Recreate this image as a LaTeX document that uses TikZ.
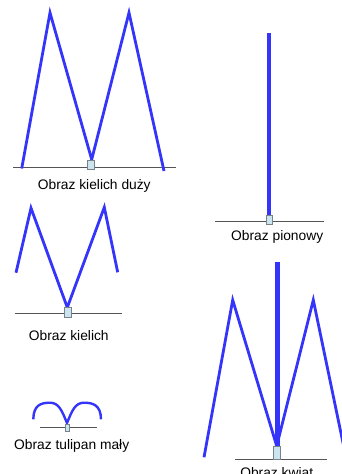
\documentclass[tikz,border=0pt]{standalone}
\usepackage{fontspec}
\setmainfont{Liberation Sans}
\definecolor{stem}{RGB}{52,52,250}
\definecolor{ground}{RGB}{85,85,85}
\definecolor{boxfill}{RGB}{204,228,240}
\definecolor{boxline}{RGB}{120,130,135}
\tikzset{
  petal/.style={draw=stem,line width=2.8pt,line join=miter},
  thickstem/.style={draw=stem,line width=4.6pt},
  groundline/.style={draw=ground,line width=1pt},
  base/.style={draw=boxline,fill=boxfill,line width=0.9pt,inner sep=0pt,minimum width=6.7pt,minimum height=9pt},
  caption/.style={font=\fontsize{13.8}{15}\selectfont,anchor=base,inner sep=0pt}
}
\begin{document}
\begin{tikzpicture}[x=1pt,y=-1pt]
\useasboundingbox (0,0) rectangle (342,474);
\clip (0,0) rectangle (342,474);
% ---- Obraz kielich duzy
\coordinate (a1) at (21.7,168.5);
\coordinate (a2) at (50,12.7);
\coordinate (a3) at (91.7,159.5);
\coordinate (a4) at (129,12.7);
\coordinate (a5) at (164,171);
\coordinate (g1l) at (13,167.7);
\coordinate (g1r) at (176,167.7);
\draw[groundline] (g1l) -- (g1r);
\draw[petal] (a1) -- (a2) -- (a3) -- (a4) -- (a5);
\node[base] (b1) at (91,164.5) {};
\node[caption] (t1) at (94.3,189) {Obraz kielich duży};
% ---- Obraz pionowy
\coordinate (p1) at (269,32.7);
\coordinate (p2) at (269,215.5);
\coordinate (g2l) at (215,221.3);
\coordinate (g2r) at (324,221.3);
\draw[groundline] (g2l) -- (g2r);
\draw[thickstem] (p1) -- (p2);
\node[base] (b2) at (269.3,219.5) {};
\node[caption] (t2) at (277.2,240) {Obraz pionowy};
% ---- Obraz kielich
\coordinate (c1) at (16,272.7);
\coordinate (c2) at (31,208);
\coordinate (c3) at (67.3,307.5);
\coordinate (c4) at (104.3,207.3);
\coordinate (c5) at (117.7,272.3);
\coordinate (g3l) at (15,313.3);
\coordinate (g3r) at (121.7,313.3);
\draw[groundline] (g3l) -- (g3r);
\draw[petal] (c1) -- (c2) -- (c3) -- (c4) -- (c5);
\node[base,minimum height=10pt] (b3) at (67.7,312.3) {};
\node[caption] (t3) at (68.8,340) {Obraz kielich};
% ---- Obraz tulipan maly
\coordinate (u1) at (33.3,419.3);
\coordinate (u2) at (50,402.7);
\coordinate (u3) at (67,423);
\coordinate (u4) at (84,402.7);
\coordinate (u5) at (101,419.3);
\coordinate (g4l) at (40,427);
\coordinate (g4r) at (96.7,427);
\draw[groundline] (g4l) -- (g4r);
\draw[petal,line width=2.4pt] (u1) .. controls (33.5,405) and (41,402.7) .. (u2)
  .. controls (59,402.7) and (62,411) .. (u3)
  .. controls (72,411) and (75,402.7) .. (u4)
  .. controls (93,402.7) and (100.8,405) .. (u5);
\node[base,minimum width=4pt,minimum height=7.7pt] (b4) at (67,427.8) {};
\node[caption] (t4) at (71.7,449) {Obraz tulipan mały};
% ---- Obraz kwiat
\coordinate (k1) at (204,457.3);
\coordinate (k2) at (232.7,300);
\coordinate (k3) at (276.7,446);
\coordinate (k4) at (313.3,300);
\coordinate (k5) at (346,457.3);
\coordinate (s1) at (277.7,261.7);
\coordinate (s2) at (277.7,446.7);
\coordinate (g5l) at (235,459.3);
\coordinate (g5r) at (327.3,459.3);
\draw[groundline] (g5l) -- (g5r);
\draw[petal] (k1) -- (k2) -- (k3) -- (k4) -- (k5);
\draw[thickstem] (s1) -- (s2);
\node[base,minimum width=7.4pt,minimum height=13pt] (b5) at (277,452.7) {};
\node[caption] (t5) at (276.7,477) {Obraz kwiat};
\end{tikzpicture}
\end{document}
